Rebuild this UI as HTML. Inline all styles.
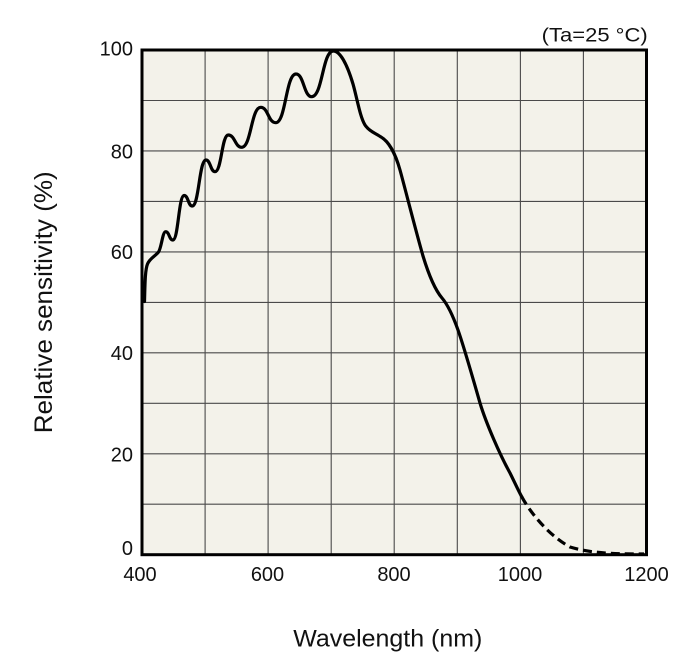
<!DOCTYPE html>
<html>
<head>
<meta charset="utf-8">
<style>
  html, body { margin: 0; padding: 0; background: #ffffff; }
  svg { display: block; }
  text { font-family: "Liberation Sans", "DejaVu Sans", sans-serif; fill: #111; }
</style>
</head>
<body>
<svg width="700" height="672" viewBox="0 0 700 672" xmlns="http://www.w3.org/2000/svg">
  <!-- plot background -->
  <rect x="142" y="50" width="504.5" height="504.7" fill="#f3f2ea"/>

  <!-- grid lines -->
  <g stroke="#4a4a4a" stroke-width="1.1" fill="none">
    <line x1="205.1" y1="50" x2="205.1" y2="554.7"/>
    <line x1="268.1" y1="50" x2="268.1" y2="554.7"/>
    <line x1="331.2" y1="50" x2="331.2" y2="554.7"/>
    <line x1="394.2" y1="50" x2="394.2" y2="554.7"/>
    <line x1="457.3" y1="50" x2="457.3" y2="554.7"/>
    <line x1="520.4" y1="50" x2="520.4" y2="554.7"/>
    <line x1="583.4" y1="50" x2="583.4" y2="554.7"/>

    <line x1="142" y1="100.5" x2="646.5" y2="100.5"/>
    <line x1="142" y1="150.9" x2="646.5" y2="150.9"/>
    <line x1="142" y1="201.4" x2="646.5" y2="201.4"/>
    <line x1="142" y1="251.9" x2="646.5" y2="251.9"/>
    <line x1="142" y1="302.4" x2="646.5" y2="302.4"/>
    <line x1="142" y1="352.8" x2="646.5" y2="352.8"/>
    <line x1="142" y1="403.3" x2="646.5" y2="403.3"/>
    <line x1="142" y1="453.8" x2="646.5" y2="453.8"/>
    <line x1="142" y1="504.2" x2="646.5" y2="504.2"/>
  </g>

  <!-- curve (solid) -->
  <path fill="none" stroke="#000" stroke-width="3.2" stroke-linecap="round" stroke-linejoin="round"
    d="M144.5,301.5
       C145,285 145,270 147.5,264
       C150,258 155,256.5 158.5,252
       C161.5,248 162.5,231.7 165.7,231.7
       C169.25,231.7 169.25,240 172.8,240
       C178.5,240 178.5,195.5 184.2,195.5
       C188.2,195.5 188.2,206 192.2,206
       C199.1,206 199.1,160 206,160
       C210.5,160 210.5,171.7 215,171.7
       C221.65,171.7 221.65,135 228.3,135
       C235,135 235,147.3 241.7,147.3
       C251.2,147.3 251.2,107.3 260.7,107.3
       C268.2,107.3 268.2,122.7 275.7,122.7
       C285.85,122.7 285.85,74 296,74
       C303.85,74 303.85,96.7 311.7,96.7
       C322.5,96.7 322.5,51 333.3,51
       C340,51 347,64 353,84
       C357,98 360,117 365,125
       C369,131 375,133 381,137
       C388,141 395,152 400,170
       C405,188 415,228 423,256
       C430,279 436,291 442,298
       C448,305 453,316 458,330
       C463,344 472,375 480,403
       C486,423 500,455 510,473
       C514,481 518,490 521.7,496.7"/>

  <!-- curve (dashed extrapolation) -->
  <path fill="none" stroke="#000" stroke-width="3.2" stroke-dasharray="9 5"
    d="M521.7,496.7 C530,512 548,535 570,547 C590,553 610,554 644,554"/>

  <!-- frame -->
  <rect x="142" y="50" width="504.5" height="504.7" fill="none" stroke="#000" stroke-width="3"/>

  <!-- y tick labels -->
  <g font-size="20" text-anchor="end">
    <text x="133" y="55.5">100</text>
    <text x="133" y="158.5">80</text>
    <text x="133" y="259">60</text>
    <text x="133" y="360">40</text>
    <text x="133" y="461.5">20</text>
    <text x="133" y="555">0</text>
  </g>

  <!-- x tick labels -->
  <g font-size="20" text-anchor="middle">
    <text x="140" y="581">400</text>
    <text x="267.5" y="581">600</text>
    <text x="394" y="581">800</text>
    <text x="520" y="581">1000</text>
    <text x="646.5" y="581">1200</text>
  </g>

  <!-- annotation -->
  <text x="541.7" y="41.7" font-size="19" textLength="106" lengthAdjust="spacingAndGlyphs">(Ta=25 °C)</text>

  <!-- axis titles -->
  <text x="293.3" y="646.7" font-size="24" textLength="189" lengthAdjust="spacingAndGlyphs">Wavelength (nm)</text>
  <text transform="translate(52,433.3) rotate(-90)" x="0" y="0" font-size="25" textLength="262" lengthAdjust="spacingAndGlyphs">Relative sensitivity (%)</text>
</svg>
</body>
</html>
